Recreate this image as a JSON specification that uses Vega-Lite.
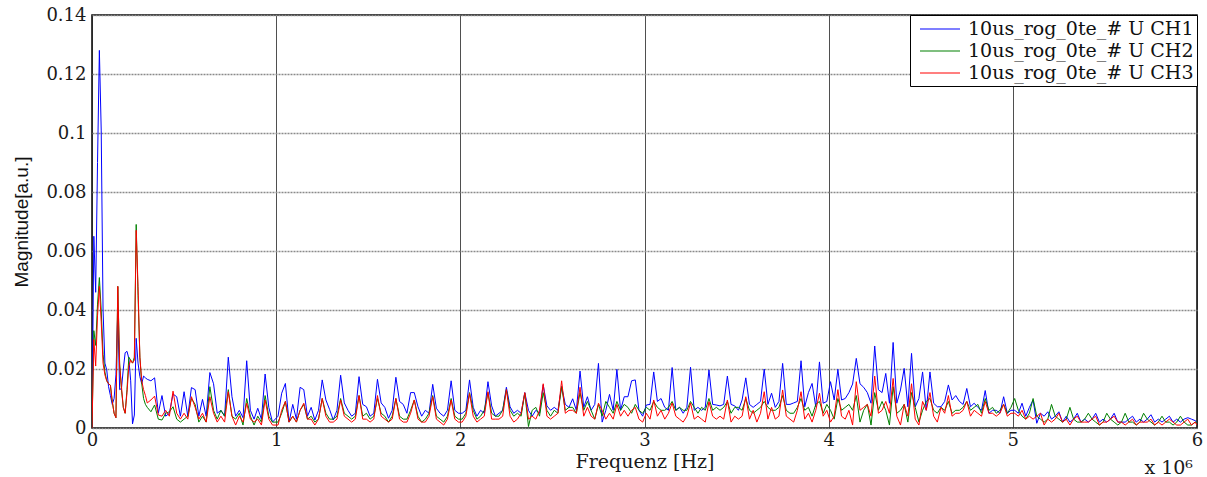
{
"$schema": "https://vega.github.io/schema/vega-lite/v6.json",
"width": 1105, "height": 413,
"autosize": {"type": "none"},
"padding": {"left": 92, "top": 15, "right": 10, "bottom": 49},
"background": "white",
"config": {"view": {"stroke": "black", "strokeWidth": 1.5}, "font": "DejaVu Serif"},
"datasets": {"spec": [
{"f":0,"CH1":0,"CH2":0,"CH3":0},
{"f":0.01,"CH1":0.065,"CH2":0.033,"CH3":0.03},
{"f":0.02,"CH1":0.046,"CH2":0.028,"CH3":0.021},
{"f":0.03,"CH1":0.09,"CH2":0.042,"CH3":0.038},
{"f":0.04,"CH1":0.128,"CH2":0.051,"CH3":0.048},
{"f":0.05,"CH1":0.101,"CH2":0.04,"CH3":0.036},
{"f":0.06,"CH1":0.04,"CH2":0.025,"CH3":0.022},
{"f":0.07,"CH1":0.022,"CH2":0.019,"CH3":0.018},
{"f":0.08,"CH1":0.0197,"CH2":0.016,"CH3":0.016},
{"f":0.09,"CH1":0.014,"CH2":0.015,"CH3":0.015},
{"f":0.1,"CH1":0.011,"CH2":0.0145,"CH3":0.0145},
{"f":0.11,"CH1":0.008,"CH2":0.009,"CH3":0.009},
{"f":0.12,"CH1":0.01,"CH2":0.005,"CH3":0.005},
{"f":0.13,"CH1":0.018,"CH2":0.0035,"CH3":0.0035},
{"f":0.14,"CH1":0.04,"CH2":0.048,"CH3":0.048},
{"f":0.15,"CH1":0.013,"CH2":0.022,"CH3":0.021},
{"f":0.16,"CH1":0.0134,"CH2":0.013,"CH3":0.014},
{"f":0.17,"CH1":0.02,"CH2":0.007,"CH3":0.007},
{"f":0.18,"CH1":0.0255,"CH2":0.005,"CH3":0.005},
{"f":0.19,"CH1":0.026,"CH2":0.013,"CH3":0.012},
{"f":0.2,"CH1":0.0236,"CH2":0.024,"CH3":0.021},
{"f":0.21,"CH1":0.016,"CH2":0.023,"CH3":0.023},
{"f":0.22,"CH1":0.0014,"CH2":0.022,"CH3":0.022},
{"f":0.23,"CH1":0.0044,"CH2":0.024,"CH3":0.023},
{"f":0.24,"CH1":0.0304,"CH2":0.069,"CH3":0.067},
{"f":0.25,"CH1":0.022,"CH2":0.045,"CH3":0.048},
{"f":0.26,"CH1":0.0174,"CH2":0.024,"CH3":0.024},
{"f":0.27,"CH1":0.015,"CH2":0.015,"CH3":0.016},
{"f":0.28,"CH1":0.0176,"CH2":0.01,"CH3":0.013},
{"f":0.29,"CH1":0.017,"CH2":0.008,"CH3":0.011},
{"f":0.3,"CH1":0.0165,"CH2":0.007,"CH3":0.0085},
{"f":0.32,"CH1":0.016,"CH2":0.0055,"CH3":0.0095},
{"f":0.34,"CH1":0.017,"CH2":0.0078,"CH3":0.0108},
{"f":0.36,"CH1":0.005,"CH2":0.003,"CH3":0.0044},
{"f":0.38,"CH1":0.011,"CH2":0.0027,"CH3":0.004},
{"f":0.4,"CH1":0.004,"CH2":0.005,"CH3":0.006},
{"f":0.42,"CH1":0.005,"CH2":0.0055,"CH3":0.004},
{"f":0.44,"CH1":0.0115,"CH2":0.0072,"CH3":0.0125},
{"f":0.46,"CH1":0.0106,"CH2":0.003,"CH3":0.005},
{"f":0.48,"CH1":0.004,"CH2":0.002,"CH3":0.003},
{"f":0.5,"CH1":0.0123,"CH2":0.003,"CH3":0.005},
{"f":0.52,"CH1":0.004,"CH2":0.004,"CH3":0.003},
{"f":0.54,"CH1":0.0137,"CH2":0.01,"CH3":0.0106},
{"f":0.56,"CH1":0.013,"CH2":0.008,"CH3":0.007},
{"f":0.58,"CH1":0.004,"CH2":0.002,"CH3":0.003},
{"f":0.6,"CH1":0.0097,"CH2":0.004,"CH3":0.005},
{"f":0.62,"CH1":0.004,"CH2":0.002,"CH3":0.002},
{"f":0.64,"CH1":0.0188,"CH2":0.014,"CH3":0.0106},
{"f":0.66,"CH1":0.015,"CH2":0.006,"CH3":0.005},
{"f":0.68,"CH1":0.005,"CH2":0.003,"CH3":0.002},
{"f":0.7,"CH1":0.006,"CH2":0.006,"CH3":0.004},
{"f":0.72,"CH1":0.004,"CH2":0.004,"CH3":0.002},
{"f":0.74,"CH1":0.024,"CH2":0.013,"CH3":0.0123},
{"f":0.76,"CH1":0.0106,"CH2":0.004,"CH3":0.004},
{"f":0.78,"CH1":0.004,"CH2":0.003,"CH3":0.001},
{"f":0.8,"CH1":0.006,"CH2":0.005,"CH3":0.004},
{"f":0.82,"CH1":0.0035,"CH2":0.001,"CH3":0.002},
{"f":0.84,"CH1":0.0228,"CH2":0.01,"CH3":0.0084},
{"f":0.86,"CH1":0.006,"CH2":0.004,"CH3":0.003},
{"f":0.88,"CH1":0.003,"CH2":0.001,"CH3":0.002},
{"f":0.9,"CH1":0.0067,"CH2":0.004,"CH3":0.003},
{"f":0.92,"CH1":0.003,"CH2":0.002,"CH3":0.001},
{"f":0.94,"CH1":0.0183,"CH2":0.011,"CH3":0.0095},
{"f":0.96,"CH1":0.007,"CH2":0.004,"CH3":0.003},
{"f":0.98,"CH1":0.002,"CH2":0.002,"CH3":0.001},
{"f":1.01,"CH1":0.004,"CH2":0.002,"CH3":0.001},
{"f":1.03,"CH1":0.0118,"CH2":0.005,"CH3":0.006},
{"f":1.05,"CH1":0.0151,"CH2":0.009,"CH3":0.009},
{"f":1.07,"CH1":0.002,"CH2":0.002,"CH3":0.002},
{"f":1.09,"CH1":0.008,"CH2":0.004,"CH3":0.004},
{"f":1.11,"CH1":0.003,"CH2":0.002,"CH3":0.002},
{"f":1.13,"CH1":0.0138,"CH2":0.006,"CH3":0.006},
{"f":1.15,"CH1":0.013,"CH2":0.008,"CH3":0.0084},
{"f":1.17,"CH1":0.004,"CH2":0.003,"CH3":0.003},
{"f":1.19,"CH1":0.007,"CH2":0.004,"CH3":0.003},
{"f":1.21,"CH1":0.0027,"CH2":0.002,"CH3":0.001},
{"f":1.23,"CH1":0.006,"CH2":0.003,"CH3":0.003},
{"f":1.25,"CH1":0.0163,"CH2":0.01,"CH3":0.01},
{"f":1.27,"CH1":0.0095,"CH2":0.005,"CH3":0.004},
{"f":1.29,"CH1":0.0063,"CH2":0.003,"CH3":0.002},
{"f":1.31,"CH1":0.0027,"CH2":0.003,"CH3":0.002},
{"f":1.33,"CH1":0.006,"CH2":0.004,"CH3":0.003},
{"f":1.35,"CH1":0.0179,"CH2":0.01,"CH3":0.0095},
{"f":1.37,"CH1":0.0085,"CH2":0.005,"CH3":0.004},
{"f":1.39,"CH1":0.006,"CH2":0.004,"CH3":0.003},
{"f":1.41,"CH1":0.004,"CH2":0.003,"CH3":0.002},
{"f":1.43,"CH1":0.005,"CH2":0.004,"CH3":0.003},
{"f":1.45,"CH1":0.0174,"CH2":0.011,"CH3":0.011},
{"f":1.47,"CH1":0.008,"CH2":0.004,"CH3":0.003},
{"f":1.49,"CH1":0.0072,"CH2":0.005,"CH3":0.003},
{"f":1.51,"CH1":0.004,"CH2":0.003,"CH3":0.002},
{"f":1.53,"CH1":0.005,"CH2":0.004,"CH3":0.003},
{"f":1.55,"CH1":0.0165,"CH2":0.01,"CH3":0.011},
{"f":1.57,"CH1":0.0085,"CH2":0.005,"CH3":0.004},
{"f":1.59,"CH1":0.007,"CH2":0.004,"CH3":0.003},
{"f":1.61,"CH1":0.0033,"CH2":0.002,"CH3":0.002},
{"f":1.63,"CH1":0.006,"CH2":0.004,"CH3":0.003},
{"f":1.65,"CH1":0.0172,"CH2":0.01,"CH3":0.01},
{"f":1.67,"CH1":0.009,"CH2":0.004,"CH3":0.003},
{"f":1.69,"CH1":0.008,"CH2":0.003,"CH3":0.002},
{"f":1.71,"CH1":0.005,"CH2":0.003,"CH3":0.002},
{"f":1.73,"CH1":0.012,"CH2":0.006,"CH3":0.005},
{"f":1.75,"CH1":0.012,"CH2":0.0095,"CH3":0.0095},
{"f":1.77,"CH1":0.0072,"CH2":0.004,"CH3":0.003},
{"f":1.79,"CH1":0.004,"CH2":0.002,"CH3":0.002},
{"f":1.81,"CH1":0.006,"CH2":0.003,"CH3":0.002},
{"f":1.83,"CH1":0.005,"CH2":0.005,"CH3":0.004},
{"f":1.85,"CH1":0.0148,"CH2":0.011,"CH3":0.0106},
{"f":1.87,"CH1":0.0067,"CH2":0.004,"CH3":0.003},
{"f":1.89,"CH1":0.005,"CH2":0.003,"CH3":0.002},
{"f":1.91,"CH1":0.004,"CH2":0.002,"CH3":0.001},
{"f":1.93,"CH1":0.006,"CH2":0.004,"CH3":0.003},
{"f":1.95,"CH1":0.016,"CH2":0.01,"CH3":0.0095},
{"f":1.97,"CH1":0.006,"CH2":0.004,"CH3":0.003},
{"f":1.99,"CH1":0.005,"CH2":0.003,"CH3":0.002},
{"f":2.01,"CH1":0.005,"CH2":0.003,"CH3":0.002},
{"f":2.03,"CH1":0.006,"CH2":0.005,"CH3":0.004},
{"f":2.05,"CH1":0.0163,"CH2":0.012,"CH3":0.0117},
{"f":2.07,"CH1":0.007,"CH2":0.006,"CH3":0.004},
{"f":2.09,"CH1":0.004,"CH2":0.003,"CH3":0.002},
{"f":2.11,"CH1":0.006,"CH2":0.004,"CH3":0.003},
{"f":2.13,"CH1":0.005,"CH2":0.006,"CH3":0.004},
{"f":2.15,"CH1":0.0157,"CH2":0.012,"CH3":0.0123},
{"f":2.17,"CH1":0.0075,"CH2":0.005,"CH3":0.003},
{"f":2.19,"CH1":0.004,"CH2":0.004,"CH3":0.003},
{"f":2.21,"CH1":0.005,"CH2":0.004,"CH3":0.003},
{"f":2.23,"CH1":0.006,"CH2":0.006,"CH3":0.004},
{"f":2.25,"CH1":0.0138,"CH2":0.013,"CH3":0.013},
{"f":2.27,"CH1":0.0072,"CH2":0.006,"CH3":0.004},
{"f":2.29,"CH1":0.005,"CH2":0.004,"CH3":0.002},
{"f":2.31,"CH1":0.006,"CH2":0.005,"CH3":0.003},
{"f":2.33,"CH1":0.005,"CH2":0.004,"CH3":0.005},
{"f":2.35,"CH1":0.012,"CH2":0.0118,"CH3":0.012},
{"f":2.37,"CH1":0.006,"CH2":0.0005,"CH3":0.003},
{"f":2.39,"CH1":0.004,"CH2":0.006,"CH3":0.004},
{"f":2.41,"CH1":0.006,"CH2":0.007,"CH3":0.003},
{"f":2.43,"CH1":0.005,"CH2":0.004,"CH3":0.006},
{"f":2.45,"CH1":0.0146,"CH2":0.012,"CH3":0.015},
{"f":2.47,"CH1":0.0075,"CH2":0.006,"CH3":0.004},
{"f":2.49,"CH1":0.006,"CH2":0.004,"CH3":0.003},
{"f":2.51,"CH1":0.007,"CH2":0.006,"CH3":0.004},
{"f":2.53,"CH1":0.006,"CH2":0.005,"CH3":0.005},
{"f":2.55,"CH1":0.0141,"CH2":0.014,"CH3":0.016},
{"f":2.57,"CH1":0.008,"CH2":0.006,"CH3":0.005},
{"f":2.59,"CH1":0.007,"CH2":0.007,"CH3":0.006},
{"f":2.61,"CH1":0.0099,"CH2":0.007,"CH3":0.006},
{"f":2.63,"CH1":0.006,"CH2":0.005,"CH3":0.005},
{"f":2.65,"CH1":0.0193,"CH2":0.012,"CH3":0.0138},
{"f":2.67,"CH1":0.007,"CH2":0.006,"CH3":0.004},
{"f":2.69,"CH1":0.0106,"CH2":0.009,"CH3":0.007},
{"f":2.71,"CH1":0.006,"CH2":0.006,"CH3":0.004},
{"f":2.73,"CH1":0.008,"CH2":0.003,"CH3":0.003},
{"f":2.75,"CH1":0.0219,"CH2":0.008,"CH3":0.0084},
{"f":2.77,"CH1":0.002,"CH2":0.004,"CH3":0.006},
{"f":2.79,"CH1":0.006,"CH2":0.009,"CH3":0.003},
{"f":2.81,"CH1":0.0114,"CH2":0.007,"CH3":0.005},
{"f":2.83,"CH1":0.006,"CH2":0.005,"CH3":0.003},
{"f":2.85,"CH1":0.0199,"CH2":0.009,"CH3":0.008},
{"f":2.87,"CH1":0.006,"CH2":0.006,"CH3":0.004},
{"f":2.89,"CH1":0.0106,"CH2":0.008,"CH3":0.006},
{"f":2.91,"CH1":0.0106,"CH2":0.007,"CH3":0.004},
{"f":2.93,"CH1":0.016,"CH2":0.005,"CH3":0.006},
{"f":2.95,"CH1":0.0163,"CH2":0.008,"CH3":0.007},
{"f":2.97,"CH1":0.006,"CH2":0.006,"CH3":0.003},
{"f":2.99,"CH1":0.004,"CH2":0.005,"CH3":0.002},
{"f":3.01,"CH1":0.0078,"CH2":0.007,"CH3":0.005},
{"f":3.03,"CH1":0.008,"CH2":0.006,"CH3":0.003},
{"f":3.05,"CH1":0.019,"CH2":0.009,"CH3":0.0095},
{"f":3.07,"CH1":0.009,"CH2":0.007,"CH3":0.004},
{"f":3.09,"CH1":0.01,"CH2":0.006,"CH3":0.006},
{"f":3.11,"CH1":0.007,"CH2":0.006,"CH3":0.003},
{"f":3.13,"CH1":0.006,"CH2":0.007,"CH3":0.005},
{"f":3.15,"CH1":0.0205,"CH2":0.009,"CH3":0.0085},
{"f":3.17,"CH1":0.006,"CH2":0.006,"CH3":0.004},
{"f":3.19,"CH1":0.007,"CH2":0.007,"CH3":0.003},
{"f":3.21,"CH1":0.005,"CH2":0.006,"CH3":0.002},
{"f":3.23,"CH1":0.007,"CH2":0.006,"CH3":0.004},
{"f":3.25,"CH1":0.0206,"CH2":0.009,"CH3":0.0085},
{"f":3.27,"CH1":0.006,"CH2":0.007,"CH3":0.003},
{"f":3.29,"CH1":0.007,"CH2":0.005,"CH3":0.004},
{"f":3.31,"CH1":0.006,"CH2":0.007,"CH3":0.003},
{"f":3.33,"CH1":0.007,"CH2":0.006,"CH3":0.002},
{"f":3.35,"CH1":0.0197,"CH2":0.01,"CH3":0.0089},
{"f":3.37,"CH1":0.008,"CH2":0.006,"CH3":0.004},
{"f":3.39,"CH1":0.0078,"CH2":0.007,"CH3":0.003},
{"f":3.41,"CH1":0.0075,"CH2":0.006,"CH3":0.004},
{"f":3.43,"CH1":0.008,"CH2":0.007,"CH3":0.003},
{"f":3.45,"CH1":0.0176,"CH2":0.009,"CH3":0.0095},
{"f":3.47,"CH1":0.008,"CH2":0.005,"CH3":0.002},
{"f":3.49,"CH1":0.0075,"CH2":0.007,"CH3":0.004},
{"f":3.51,"CH1":0.006,"CH2":0.007,"CH3":0.003},
{"f":3.53,"CH1":0.0095,"CH2":0.006,"CH3":0.004},
{"f":3.55,"CH1":0.017,"CH2":0.01,"CH3":0.0106},
{"f":3.57,"CH1":0.008,"CH2":0.006,"CH3":0.003},
{"f":3.59,"CH1":0.007,"CH2":0.005,"CH3":0.006},
{"f":3.61,"CH1":0.008,"CH2":0.006,"CH3":0.002},
{"f":3.63,"CH1":0.009,"CH2":0.007,"CH3":0.005},
{"f":3.65,"CH1":0.02,"CH2":0.009,"CH3":0.0123},
{"f":3.67,"CH1":0.008,"CH2":0.007,"CH3":0.003},
{"f":3.69,"CH1":0.0118,"CH2":0.006,"CH3":0.007},
{"f":3.71,"CH1":0.007,"CH2":0.006,"CH3":0.003},
{"f":3.73,"CH1":0.009,"CH2":0.007,"CH3":0.004},
{"f":3.75,"CH1":0.0219,"CH2":0.011,"CH3":0.0129},
{"f":3.77,"CH1":0.008,"CH2":0.006,"CH3":0.004},
{"f":3.79,"CH1":0.008,"CH2":0.005,"CH3":0.003},
{"f":3.81,"CH1":0.0085,"CH2":0.005,"CH3":0.002},
{"f":3.83,"CH1":0.009,"CH2":0.007,"CH3":0.006},
{"f":3.85,"CH1":0.0228,"CH2":0.01,"CH3":0.0123},
{"f":3.87,"CH1":0.0072,"CH2":0.006,"CH3":0.003},
{"f":3.89,"CH1":0.012,"CH2":0.007,"CH3":0.005},
{"f":3.91,"CH1":0.0151,"CH2":0.004,"CH3":0.002},
{"f":3.93,"CH1":0.0072,"CH2":0.008,"CH3":0.006},
{"f":3.95,"CH1":0.0224,"CH2":0.009,"CH3":0.0118},
{"f":3.97,"CH1":0.0084,"CH2":0.005,"CH3":0.004},
{"f":3.99,"CH1":0.009,"CH2":0.008,"CH3":0.006},
{"f":4.01,"CH1":0.0157,"CH2":0.006,"CH3":0.002},
{"f":4.03,"CH1":0.0095,"CH2":0.003,"CH3":0.004},
{"f":4.05,"CH1":0.0199,"CH2":0.01,"CH3":0.013},
{"f":4.07,"CH1":0.0095,"CH2":0.006,"CH3":0.004},
{"f":4.09,"CH1":0.01,"CH2":0.007,"CH3":0.003},
{"f":4.11,"CH1":0.012,"CH2":0.008,"CH3":0.006},
{"f":4.13,"CH1":0.0149,"CH2":0.006,"CH3":0.001},
{"f":4.15,"CH1":0.0236,"CH2":0.011,"CH3":0.0157},
{"f":4.17,"CH1":0.015,"CH2":0.002,"CH3":0.006},
{"f":4.19,"CH1":0.0138,"CH2":0.006,"CH3":0.007},
{"f":4.21,"CH1":0.012,"CH2":0.008,"CH3":0.008},
{"f":4.23,"CH1":0.0084,"CH2":0.001,"CH3":0.004},
{"f":4.25,"CH1":0.0278,"CH2":0.012,"CH3":0.0176},
{"f":4.27,"CH1":0.013,"CH2":0.006,"CH3":0.005},
{"f":4.29,"CH1":0.012,"CH2":0.009,"CH3":0.006},
{"f":4.31,"CH1":0.0185,"CH2":0.006,"CH3":0.009},
{"f":4.33,"CH1":0.0084,"CH2":0.001,"CH3":0.005},
{"f":4.35,"CH1":0.029,"CH2":0.014,"CH3":0.0168},
{"f":4.37,"CH1":0.0084,"CH2":0.005,"CH3":0.004},
{"f":4.39,"CH1":0.0129,"CH2":0.006,"CH3":0.001},
{"f":4.41,"CH1":0.0202,"CH2":0.008,"CH3":0.008},
{"f":4.43,"CH1":0.0072,"CH2":0.002,"CH3":0.004},
{"f":4.45,"CH1":0.0253,"CH2":0.012,"CH3":0.015},
{"f":4.47,"CH1":0.0072,"CH2":0.007,"CH3":0.003},
{"f":4.49,"CH1":0.01,"CH2":0.002,"CH3":0.001},
{"f":4.51,"CH1":0.019,"CH2":0.006,"CH3":0.009},
{"f":4.53,"CH1":0.006,"CH2":0.009,"CH3":0.006},
{"f":4.55,"CH1":0.019,"CH2":0.01,"CH3":0.012},
{"f":4.57,"CH1":0.0084,"CH2":0.006,"CH3":0.004},
{"f":4.59,"CH1":0.0072,"CH2":0.005,"CH3":0.002},
{"f":4.61,"CH1":0.0072,"CH2":0.007,"CH3":0.007},
{"f":4.63,"CH1":0.009,"CH2":0.006,"CH3":0.005},
{"f":4.65,"CH1":0.0146,"CH2":0.009,"CH3":0.011},
{"f":4.67,"CH1":0.0095,"CH2":0.005,"CH3":0.004},
{"f":4.69,"CH1":0.011,"CH2":0.006,"CH3":0.005},
{"f":4.71,"CH1":0.009,"CH2":0.006,"CH3":0.005},
{"f":4.73,"CH1":0.008,"CH2":0.007,"CH3":0.006},
{"f":4.75,"CH1":0.0134,"CH2":0.009,"CH3":0.009},
{"f":4.77,"CH1":0.0072,"CH2":0.006,"CH3":0.004},
{"f":4.79,"CH1":0.0084,"CH2":0.007,"CH3":0.006},
{"f":4.81,"CH1":0.007,"CH2":0.008,"CH3":0.005},
{"f":4.83,"CH1":0.006,"CH2":0.005,"CH3":0.004},
{"f":4.85,"CH1":0.0127,"CH2":0.01,"CH3":0.009},
{"f":4.87,"CH1":0.005,"CH2":0.006,"CH3":0.005},
{"f":4.89,"CH1":0.006,"CH2":0.007,"CH3":0.005},
{"f":4.91,"CH1":0.006,"CH2":0.005,"CH3":0.004},
{"f":4.93,"CH1":0.005,"CH2":0.006,"CH3":0.005},
{"f":4.95,"CH1":0.0106,"CH2":0.008,"CH3":0.008},
{"f":4.97,"CH1":0.005,"CH2":0.005,"CH3":0.004},
{"f":4.99,"CH1":0.006,"CH2":0.007,"CH3":0.005},
{"f":5.01,"CH1":0.006,"CH2":0.01,"CH3":0.005},
{"f":5.03,"CH1":0.005,"CH2":0.006,"CH3":0.004},
{"f":5.05,"CH1":0.0084,"CH2":0.004,"CH3":0.006},
{"f":5.07,"CH1":0.004,"CH2":0.003,"CH3":0.003},
{"f":5.09,"CH1":0.007,"CH2":0.005,"CH3":0.004},
{"f":5.11,"CH1":0.0095,"CH2":0.01,"CH3":0.003},
{"f":5.13,"CH1":0.0016,"CH2":0.004,"CH3":0.004},
{"f":5.15,"CH1":0.005,"CH2":0.003,"CH3":0.005},
{"f":5.17,"CH1":0.004,"CH2":0.002,"CH3":0.001},
{"f":5.19,"CH1":0.0055,"CH2":0.003,"CH3":0.003},
{"f":5.21,"CH1":0.003,"CH2":0.008,"CH3":0.002},
{"f":5.23,"CH1":0.004,"CH2":0.004,"CH3":0.003},
{"f":5.25,"CH1":0.0055,"CH2":0.003,"CH3":0.005},
{"f":5.27,"CH1":0.002,"CH2":0.002,"CH3":0.002},
{"f":5.29,"CH1":0.004,"CH2":0.003,"CH3":0.003},
{"f":5.31,"CH1":0.002,"CH2":0.007,"CH3":0.001},
{"f":5.33,"CH1":0.003,"CH2":0.003,"CH3":0.003},
{"f":5.35,"CH1":0.005,"CH2":0.002,"CH3":0.004},
{"f":5.37,"CH1":0.002,"CH2":0.002,"CH3":0.002},
{"f":5.39,"CH1":0.003,"CH2":0.003,"CH3":0.002},
{"f":5.41,"CH1":0.002,"CH2":0.005,"CH3":0.002},
{"f":5.43,"CH1":0.003,"CH2":0.003,"CH3":0.003},
{"f":5.45,"CH1":0.005,"CH2":0.002,"CH3":0.004},
{"f":5.47,"CH1":0.002,"CH2":0.001,"CH3":0.001},
{"f":5.49,"CH1":0.003,"CH2":0.002,"CH3":0.002},
{"f":5.51,"CH1":0.002,"CH2":0.005,"CH3":0.002},
{"f":5.53,"CH1":0.003,"CH2":0.003,"CH3":0.003},
{"f":5.55,"CH1":0.005,"CH2":0.002,"CH3":0.004},
{"f":5.57,"CH1":0.002,"CH2":0.001,"CH3":0.002},
{"f":5.59,"CH1":0.002,"CH2":0.002,"CH3":0.002},
{"f":5.61,"CH1":0.002,"CH2":0.005,"CH3":0.001},
{"f":5.63,"CH1":0.003,"CH2":0.002,"CH3":0.002},
{"f":5.65,"CH1":0.004,"CH2":0.002,"CH3":0.003},
{"f":5.67,"CH1":0.002,"CH2":0.001,"CH3":0.001},
{"f":5.69,"CH1":0.003,"CH2":0.002,"CH3":0.002},
{"f":5.71,"CH1":0.002,"CH2":0.005,"CH3":0.002},
{"f":5.73,"CH1":0.003,"CH2":0.003,"CH3":0.002},
{"f":5.75,"CH1":0.0045,"CH2":0.002,"CH3":0.003},
{"f":5.77,"CH1":0.002,"CH2":0.001,"CH3":0.001},
{"f":5.79,"CH1":0.003,"CH2":0.002,"CH3":0.002},
{"f":5.81,"CH1":0.002,"CH2":0.004,"CH3":0.001},
{"f":5.83,"CH1":0.003,"CH2":0.002,"CH3":0.002},
{"f":5.85,"CH1":0.004,"CH2":0.002,"CH3":0.003},
{"f":5.87,"CH1":0.002,"CH2":0.001,"CH3":0.002},
{"f":5.89,"CH1":0.003,"CH2":0.002,"CH3":0.001},
{"f":5.91,"CH1":0.002,"CH2":0.004,"CH3":0.001},
{"f":5.93,"CH1":0.003,"CH2":0.002,"CH3":0.002},
{"f":5.95,"CH1":0.0035,"CH2":0.001,"CH3":0.003},
{"f":5.97,"CH1":0.003,"CH2":0.001,"CH3":0.001},
{"f":5.99,"CH1":0.0025,"CH2":0.002,"CH3":0.002},
{"f":6,"CH1":0.002,"CH2":0.002,"CH3":0.001}
]},
"layer": [
{
"data": {"name": "spec"},
"transform": [{"fold": ["CH1", "CH2", "CH3"], "as": ["ch", "mag"]}],
"mark": {"type": "line", "strokeWidth": 1, "clip": true},
"encoding": {
"x": {"field": "f", "type": "quantitative",
"scale": {"domain": [0, 6], "nice": false, "zero": false},
"axis": {"values": [0,1,2,3,4,5,6], "format": "d", "labelFont": "DejaVu Serif", "labelFontSize": 18, "labelColor": "#1a1a1a", "labelPadding": 3, "labelFlush": false, "ticks": false, "domain": false, "grid": true, "gridColor": "#222", "gridWidth": 0.8, "title": "Frequenz [Hz]", "titleFont": "DejaVu Serif", "titleFontSize": 19, "titleFontWeight": "normal", "titleColor": "#1a1a1a", "titlePadding": 3}},
"y": {"field": "mag", "type": "quantitative",
"scale": {"domain": [0, 0.14], "nice": false},
"axis": {"values": [0,0.02,0.04,0.06,0.08,0.1,0.12,0.14], "format": "~g", "labelFont": "DejaVu Serif", "labelFontSize": 18, "labelColor": "#1a1a1a", "labelPadding": 6, "labelFlush": false, "ticks": false, "domain": false, "grid": true, "gridColor": "#8a8a8a", "gridWidth": 1.3, "gridDash": [2, 1], "title": "Magnitude[a.u.]", "titleFont": "Liberation Sans Narrow, Liberation Sans, Arial", "titleFontSize": 19, "titleFontWeight": "normal", "titleColor": "#111", "titlePadding": 14}},
"color": {"field": "ch", "type": "nominal",
"scale": {"domain": ["CH1", "CH2", "CH3"], "range": ["#0000ff", "#008000", "#ff0000"]},
"legend": {"title": null, "orient": "top-right", "offset": 0, "fillColor": "white", "strokeColor": "black", "padding": 3, "labelFont": "DejaVu Serif", "labelFontSize": 19, "labelColor": "#111", "labelExpr": "'10us_rog_0te_# U ' + datum.label", "labelLimit": 400, "symbolType": "M-2,0H2", "symbolSize": 400, "symbolStrokeWidth": 1.2, "symbolOffset": 16, "labelOffset": 17, "rowPadding": 1}}
}
},
{
"data": {"values": [{"t": "x 10⁶"}]},
"mark": {"type": "text", "align": "right", "baseline": "middle", "font": "DejaVu Serif", "fontSize": 19, "color": "#1a1a1a", "dx": -4},
"encoding": {"x": {"datum": 6}, "y": {"datum": -0.0135}, "text": {"field": "t"}}
}
]
}
